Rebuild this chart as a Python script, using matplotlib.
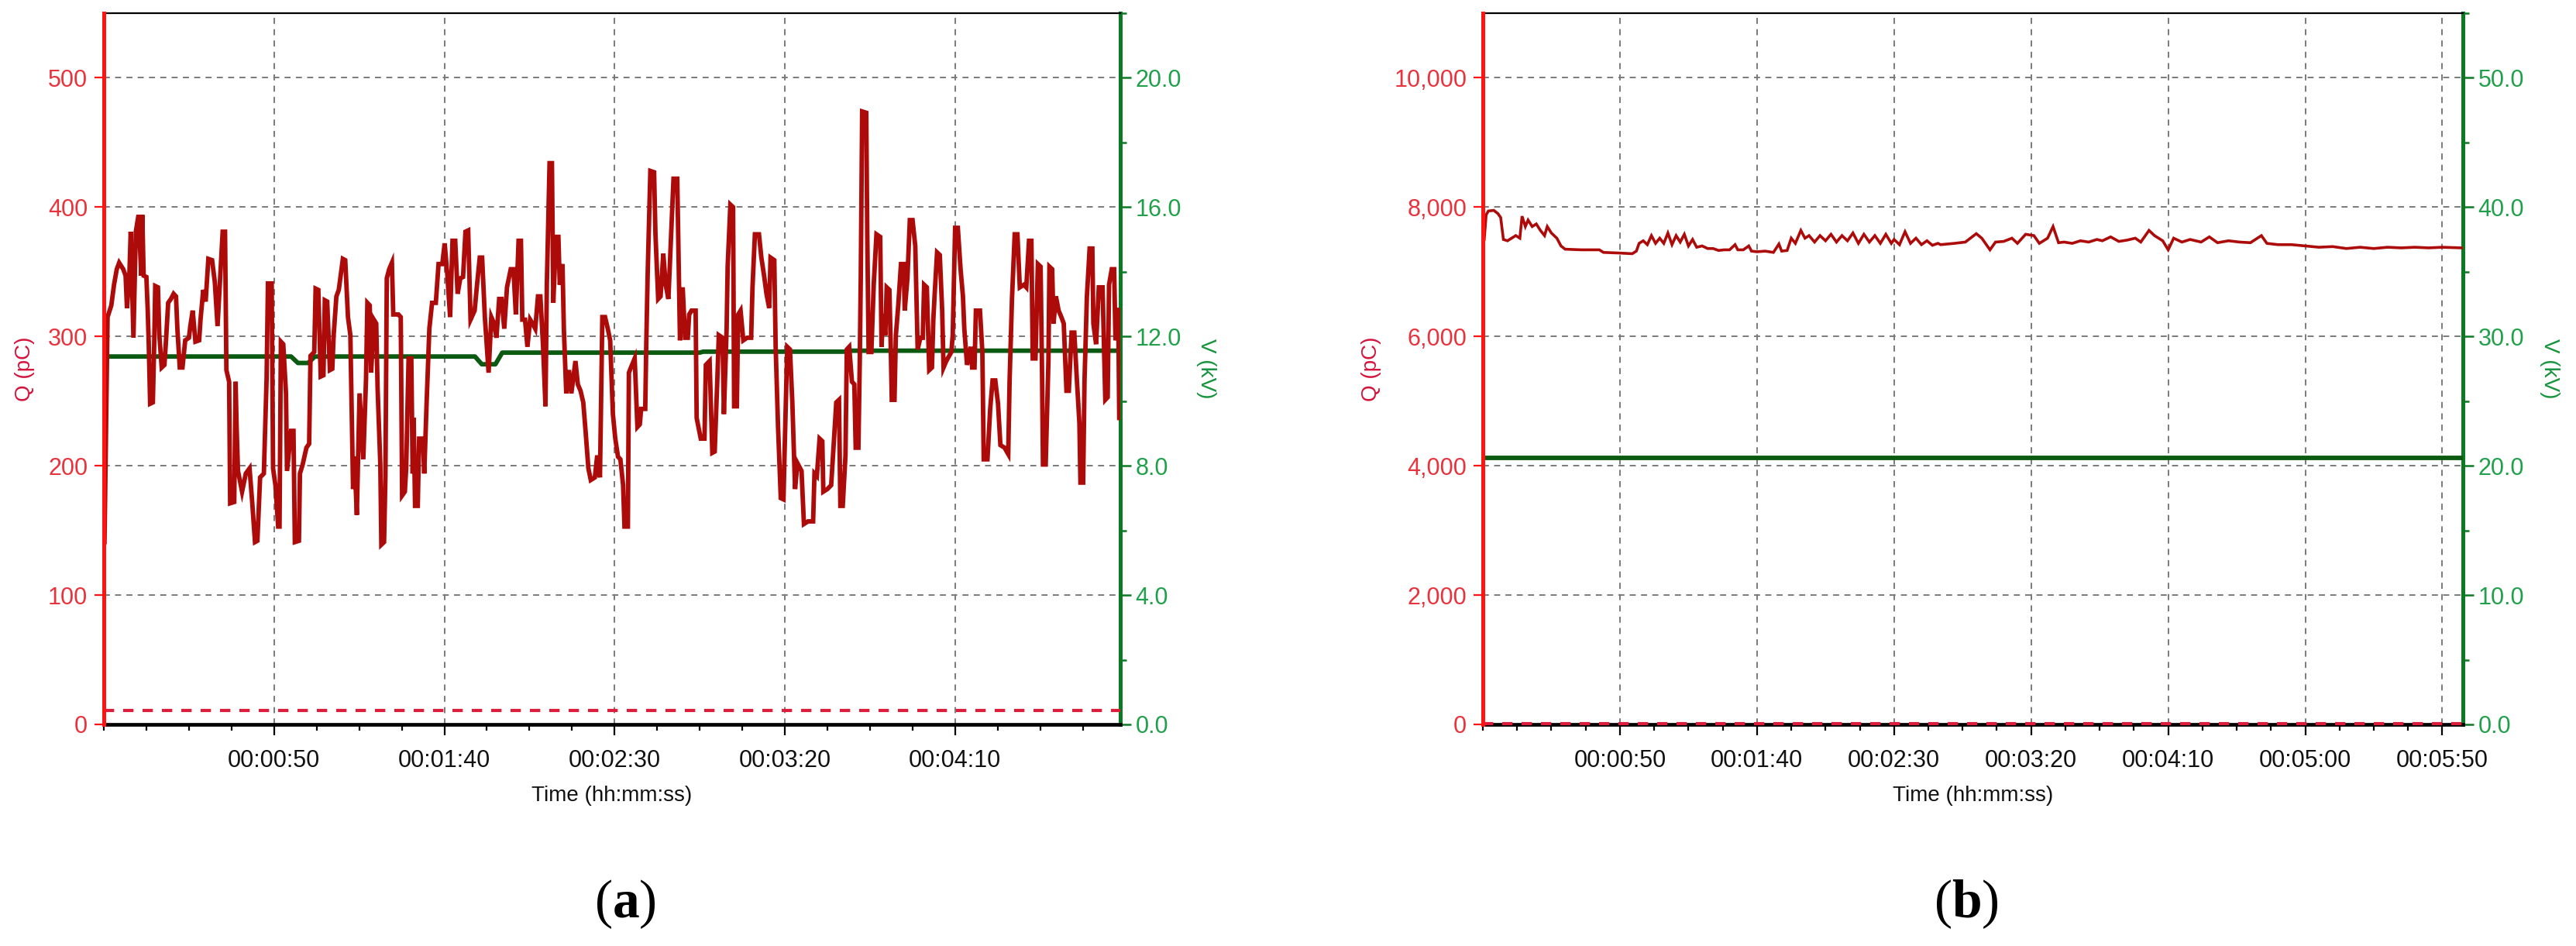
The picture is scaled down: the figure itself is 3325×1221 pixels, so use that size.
import matplotlib
matplotlib.use("Agg")
import matplotlib.pyplot as plt
from matplotlib.ticker import MultipleLocator, FixedLocator, FuncFormatter

plt.rcParams['font.family'] = ['Liberation Sans', 'DejaVu Sans']
plt.rcParams['mathtext.fontset'] = 'custom'
plt.rcParams['mathtext.rm'] = 'Liberation Serif'
plt.rcParams['mathtext.bf'] = 'Liberation Serif:bold'

# ---------------- data: panel (a) ----------------
A_Q_TIME = [
    0.2, 1.1, 2.2, 3.0, 3.8, 4.5, 5.7, 6.4, 6.8, 7.5, 7.9, 8.7, 9.4, 10.2, 11.0, 11.3, 11.7, 12.5, 12.9, 13.2,
    13.6, 14.4, 14.8, 15.1, 15.9, 16.3, 17.0, 17.8, 18.2, 18.9, 19.7, 20.5, 21.2, 21.6, 22.3, 23.1, 23.9, 25.0,
    25.4, 26.1, 26.9, 28.0, 28.4, 29.2, 29.9, 30.7, 31.8, 32.6, 33.4, 34.1, 34.9, 35.6, 36.0, 36.8, 37.1, 38.3,
    38.7, 39.0, 39.4, 40.6, 41.7, 42.8, 43.6, 44.4, 45.1, 45.9, 47.0, 47.8, 48.2, 49.3, 49.7, 50.4, 51.2, 51.6,
    52.0, 52.7, 53.5, 53.8, 55.0, 55.7, 56.1, 57.3, 57.6, 58.4, 59.5, 60.3, 60.7, 61.8, 62.2, 63.0, 63.7, 64.5,
    64.9, 65.6, 66.4, 67.1, 67.5, 68.3, 69.0, 70.2, 70.9, 71.7, 72.4, 72.8, 73.2, 73.6, 74.3,
    75.1, 76.2, 77.0, 77.4, 78.1, 78.5, 79.3, 80.0, 80.4, 81.2, 81.5, 82.3, 82.7, 83.1, 83.8, 84.6, 85.0, 86.5,
    87.2, 87.6, 88.4, 88.8, 89.5, 90.3, 90.7, 91.0, 91.4, 92.2, 92.6, 93.7, 94.1, 94.8, 95.6, 96.4, 97.5, 98.3,
    99.4, 100.1, 100.9, 101.7, 102.4, 103.2, 103.9, 104.7, 105.5, 106.2, 107.0, 107.7, 108.9, 109.6, 110.4,
    111.1, 111.9, 113.0, 113.8, 114.6, 115.3, 116.1, 116.8, 117.6, 118.4, 119.5, 120.3, 121.0, 121.8, 122.5,
    122.9, 123.7, 124.4, 125.2, 125.9, 126.7, 127.5, 128.2, 129.0, 129.7, 130.1, 130.9, 131.6, 132.0, 132.8,
    133.5, 133.9, 134.7, 135.1, 135.8, 136.6, 137.3, 138.5, 139.2, 140.0, 140.8, 141.5, 142.3, 143.0, 144.2,
    144.9, 145.7, 146.4, 147.2, 148.0, 148.7, 149.5,
    150.2, 151.0, 151.7, 152.5, 152.9, 153.9, 154.2, 154.8, 155.9, 156.7, 157.4, 157.8, 159.0, 159.3, 159.7,
    160.5, 161.6, 162.0, 162.8, 163.5, 164.3, 165.0, 165.8, 166.5, 167.3, 168.4, 168.8, 169.2, 170.0, 170.7,
    171.5, 171.9, 172.6, 173.8, 174.1, 175.3, 176.4, 176.8, 177.9, 178.7, 179.4, 180.2, 180.6, 181.7, 182.1,
    182.9, 183.2, 184.0, 184.8, 185.1, 185.9, 186.3, 187.0, 187.8, 188.9, 190.1, 190.5, 191.2, 192.4, 193.1,
    193.9, 194.6, 195.4, 195.8, 196.9, 197.3, 198.0, 198.8, 199.6, 199.9, 200.7, 201.5, 202.2, 203.0, 203.7,
    204.9, 205.6, 206.8, 208.3, 208.7, 209.4, 210.2, 211.0, 211.3, 212.5, 213.6, 214.4, 215.1, 215.9, 216.3,
    217.0, 217.8, 218.2, 218.9, 219.7, 220.4, 220.8, 221.6, 222.0, 222.3, 222.7, 223.9, 224.2, 224.6, 225.4,
    226.1, 226.9,
    228.0, 228.4, 228.8, 229.5, 229.9, 230.7, 231.1, 231.4, 232.2, 232.6, 233.3, 234.1, 234.9, 235.2, 236.0,
    236.7, 237.5, 238.3, 239.0, 239.8, 240.5, 240.9, 241.7, 242.4, 243.2, 243.6, 244.0, 244.7, 245.5, 246.2,
    246.6, 247.4, 248.9, 249.3, 250.0, 250.8, 251.6, 252.3, 252.7, 253.5, 254.6, 255.0, 255.7, 256.1, 257.3,
    258.0, 258.4, 259.5, 260.3, 261.0, 261.8, 262.6, 263.3, 264.5, 265.6, 266.0, 266.7, 267.5, 268.3, 269.0,
    270.2, 270.9, 271.7, 272.4, 272.8, 273.6, 274.3, 275.1, 275.5, 275.8, 276.6, 277.4, 277.7, 278.5, 278.9,
    279.6, 280.4, 281.2, 281.9, 282.7, 283.4, 284.2, 285.0, 285.7, 286.5, 286.8, 287.6, 288.0, 288.7, 289.5,
    290.3, 290.6, 291.4, 292.2, 293.3, 293.7, 294.1, 294.8, 295.2, 296.0, 296.7, 297.1, 297.9, 298.2,
]
A_Q_PC = [
    141, 315, 324, 340, 352, 357, 352, 347, 322, 347, 381, 299, 381, 394, 347, 394, 347, 346, 320, 294,
    248, 249, 294, 339, 338, 301, 276, 278, 294, 326, 329, 333, 331, 306, 276, 276, 297, 299,
    308, 320, 296, 297, 313, 336, 327, 360, 359, 342, 308, 342, 381, 381, 274, 265, 171, 172,
    265, 230, 196, 180, 194, 198, 171, 141, 142, 191, 194, 267, 341, 341, 198, 185, 153, 153,
    296, 294, 256, 196, 227, 227, 141, 142, 194, 201, 214, 217, 285, 288, 337, 336, 269, 270,
    328, 327, 274, 275, 301, 331, 336, 360, 359, 315, 301, 243, 182, 207, 162,
    256, 205, 267, 326, 324, 272, 313, 310, 260, 201, 139, 141, 192, 345, 352, 357, 317, 317,
    315, 177, 180, 198, 283, 283, 194, 237, 169, 169, 221, 221, 194, 249, 306, 326, 326, 356,
    356, 372, 347, 315, 374, 374, 333, 345, 346, 381, 382, 313, 320, 340, 361,
    361, 315, 272, 315, 310, 299, 329, 329, 306, 338, 352, 352, 317, 374, 374,
    313, 313, 292, 313, 310, 306, 331, 331, 292, 246, 340, 434, 434, 326, 377,
    377, 340, 356, 306, 256, 274, 256, 281, 263, 258, 249, 226, 198, 189, 191,
    208, 191, 315, 315, 306, 297, 240,
    221, 207, 205, 185, 153, 153, 272, 276, 283, 230, 232, 244, 244, 294, 347,
    428, 427, 379, 329, 331, 364, 340, 329, 372, 422, 422, 359, 297, 338, 299,
    299, 317, 320, 320, 237, 221, 221, 278, 281, 210, 211, 269, 301, 299, 240,
    306, 354, 402, 400, 246, 246, 317, 320, 297, 299, 299, 338, 379, 379, 361,
    347, 333, 322, 361, 359, 292, 230, 175, 174, 208, 292, 290, 249, 182, 202,
    196, 155, 157, 157, 194, 192, 221, 219, 180, 182, 185, 219, 249, 251, 169,
    169, 208, 290, 292, 265, 263, 214, 214, 281, 347, 474, 473, 379, 288, 288,
    340, 379,
    377, 292, 317, 301, 338, 336, 292, 251, 251, 301, 324, 356, 356, 320, 345,
    390, 390, 370, 290, 299, 299, 340, 338, 274, 276, 313, 333, 365, 363, 320,
    276, 281, 288, 301, 384, 384, 352, 331, 306, 278, 292, 276, 276, 320, 320,
    288, 205, 205, 244, 266, 266, 248, 216, 214, 209, 266, 329, 379, 379, 338,
    340, 338, 374, 374, 283, 283, 356, 354, 278, 201, 201, 281, 354, 352, 310,
    331, 320, 315, 310, 258, 258, 303, 303, 269, 233, 187, 187, 266, 331, 368,
    368, 310, 294, 338, 338, 294, 251, 253, 340, 352, 352, 297, 322, 237,
]
A_V_TIME = [0, 55, 57, 60, 62, 109, 111, 115, 117, 175, 176, 218, 219, 298.5]
A_V_KV = [11.38, 11.38, 11.18, 11.18, 11.38, 11.38, 11.14, 11.14, 11.5, 11.5, 11.53, 11.53, 11.56, 11.56]
A_THRESHOLD_PC = 11
A_X_TICKS = [50, 100, 150, 200, 250]

# ---------------- data: panel (b) ----------------
B_Q_TIME = [
    0.5, 1.2, 2.0, 4.0, 5.5, 6.5, 7.5, 9.0, 10.5, 12.0, 13.5, 14.3, 15.5, 16.5, 18.0, 19.5, 21.0, 22.5, 23.5,
    25.0, 27.0, 28.5, 30.0, 36.0, 42.5, 44.0, 50.0, 54.5, 56.0, 57.0, 58.5, 60.0, 61.5, 63.0, 64.5, 66.0, 67.5,
    69.0, 70.5, 72.0, 73.5, 75.0, 76.5, 78.0, 80.0, 82.0, 84.0, 86.0, 88.0, 90.0, 92.0, 93.0, 95.0, 97.0, 98.0,
    100.0, 103.0, 106.0, 108.0, 109.0, 111.0, 112.5, 114.0, 116.0, 117.5, 119.0, 121.0, 123.0, 125.0, 127.0,
    129.0, 131.0, 133.0, 135.0, 137.0, 139.0, 141.0, 143.0, 145.0, 147.0, 149.0, 150.0, 152.0, 154.0, 156.0,
    158.0, 160.0, 162.0, 164.0, 166.0, 167.0, 172.0, 176.0, 180.0, 182.0, 185.0, 187.0, 190.0, 193.0, 195.0,
    198.0, 201.0, 203.0, 206.0, 208.0, 210.0, 212.0, 215.0, 218.0, 221.0, 224.0, 226.0, 229.0, 232.0, 235.0,
    238.0, 240.0, 243.0, 245.0, 248.0, 250.0, 252.0, 255.0, 258.0, 262.0, 265.0, 268.0, 272.0, 276.0, 280.0,
    284.0, 286.0, 290.0, 295.0, 300.0, 305.0, 310.0, 315.0, 320.0, 325.0, 330.0, 335.0, 340.0, 345.0, 350.0,
    357.0,
]
B_Q_PC = [
    7500, 7880, 7940, 7950, 7900, 7840, 7500, 7480, 7520, 7560, 7520, 7860, 7700, 7800, 7700, 7740, 7640, 7560, 7700,
    7600, 7520, 7400, 7350, 7340, 7340, 7300, 7290, 7280, 7320, 7440, 7480, 7420, 7560, 7440, 7520, 7440, 7600,
    7420, 7560, 7460, 7580, 7400, 7500, 7380, 7400, 7360, 7360, 7330, 7340, 7340, 7420, 7340, 7340, 7400, 7320,
    7310, 7320, 7300, 7430, 7320, 7330, 7520, 7440, 7640, 7520, 7560, 7460, 7560, 7480, 7580,
    7460, 7560, 7480, 7600, 7440, 7580, 7460, 7560, 7440, 7580, 7440, 7500, 7420, 7620, 7440,
    7520, 7420, 7480, 7410, 7440, 7420, 7440, 7460, 7590, 7520, 7340, 7460, 7470, 7520, 7440,
    7580, 7560, 7440, 7520, 7700, 7450, 7460, 7440, 7480, 7460, 7500, 7480, 7540, 7470, 7490,
    7520, 7460, 7640, 7560, 7480, 7340, 7520, 7460, 7500, 7460, 7540, 7450, 7480, 7460, 7450,
    7560, 7440, 7420, 7420, 7400, 7380, 7390, 7360, 7380, 7360, 7380, 7370, 7380, 7370, 7380,
    7370,
]
B_V_TIME = [0, 357.5]
B_V_KV = [20.6, 20.6]
B_THRESHOLD_PC = 11
B_X_TICKS = [50, 100, 150, 200, 250, 300, 350]

# ---------------- styling ----------------
W, H = 3325, 1221
fig = plt.figure(figsize=(W / 100, H / 100), dpi=100)
fig.patch.set_facecolor('white')

RED_SPINE = '#ff1414'
GREEN_SPINE = '#0b7a22'
TRACE_RED = '#ad0a0a'
TRACE_GREEN = '#0b5a12'
TICK_RED = '#e8323c'
TICK_GREEN = '#20a04a'
LABEL_RED = '#d4143c'
LABEL_GREEN = '#17943e'
GRID = '#7a7a7a'
THRESH = '#dc1e3c'


def hms(x, pos):
    s = int(round(x))
    return f"{s // 3600:02d}:{(s % 3600) // 60:02d}:{s % 60:02d}"


def panel(rect, tq, q, tv, v, thr, xmax, xticks, qmax, qstep, vmax, vstep, vminor, qfmt, q_lw):
    ax = fig.add_axes(rect)
    ax2 = ax.twinx()
    ax.set_zorder(ax2.get_zorder() + 1)
    ax.patch.set_visible(False)
    ax2.patch.set_visible(True)
    ax2.patch.set_facecolor('white')

    ax.set_xlim(0, xmax)
    ax.set_ylim(0, qmax)
    ax2.set_ylim(0, vmax)

    # voltage (behind), with grid
    ax2.plot(tv, v, color=TRACE_GREEN, lw=4.2, solid_capstyle='butt', zorder=3)
    ax2.xaxis.set_visible(True)
    ax.xaxis.set_major_locator(FixedLocator(xticks))
    ax.xaxis.set_minor_locator(MultipleLocator(12.5))
    ax.xaxis.set_major_formatter(FuncFormatter(hms))
    ax2.tick_params(axis='x', which='both', length=0, labelbottom=False, labeltop=False)
    ax2.yaxis.set_major_locator(MultipleLocator(vstep))
    ax2.yaxis.set_minor_locator(MultipleLocator(vminor))
    ax2.yaxis.set_major_formatter(FuncFormatter(lambda val, p: f"{val:.1f}"))
    ax2.grid(True, which='major', axis='both', color=GRID, linestyle=(0, (4, 3.5)), linewidth=1.4, zorder=1)
    ax2.set_axisbelow(True)

    # charge (front)
    ax.plot(tq, q, color=TRACE_RED, lw=q_lw, solid_joinstyle='miter', zorder=3)
    ax.axhline(thr, color=THRESH, lw=3.0, linestyle=(0, (3.2, 2.8)), zorder=4, clip_on=False)

    ax.yaxis.set_major_locator(MultipleLocator(qstep))
    ax.yaxis.set_major_formatter(FuncFormatter(qfmt))

    # spines
    for s in ('left', 'right', 'top', 'bottom'):
        ax2.spines[s].set_visible(False)
    ax2.spines['right'].set_visible(True)
    ax2.spines['right'].set_color(GREEN_SPINE)
    ax2.spines['right'].set_linewidth(3.6)
    ax.spines['right'].set_visible(False)
    ax.spines['left'].set_color(RED_SPINE)
    ax.spines['left'].set_linewidth(3.6)
    ax.spines['left'].set_zorder(5)
    ax.spines['top'].set_color('black')
    ax.spines['top'].set_linewidth(1.6)
    ax.spines['bottom'].set_color('black')
    ax.spines['bottom'].set_linewidth(3.4)
    ax.spines['bottom'].set_zorder(3.5)

    ax.tick_params(axis='y', which='major', direction='out', length=9, width=1.6,
                   color=RED_SPINE, labelcolor=TICK_RED, labelsize=22, pad=6)
    ax.tick_params(axis='x', which='major', direction='out', length=10, width=1.6,
                   color='black', labelcolor='#111111', labelsize=22, pad=13)
    ax.tick_params(axis='x', which='minor', direction='out', length=6, width=1.6, color='black')
    ax2.tick_params(axis='y', which='major', direction='out', length=10, width=1.8,
                    color=GREEN_SPINE, labelcolor=TICK_GREEN, labelsize=22, pad=4)
    ax2.tick_params(axis='y', which='minor', direction='out', length=6, width=1.8, color=GREEN_SPINE)

    ax.set_ylabel('Q (pC)', color=LABEL_RED, fontsize=20, labelpad=12)
    ax2.set_ylabel('V (kV)', color=LABEL_GREEN, fontsize=20, rotation=270, va='bottom', labelpad=14)
    ax.set_xlabel('Time (hh:mm:ss)', color='#111111', fontsize=20, labelpad=12)
    return ax, ax2


bottom = (H - 935) / H
height = 918 / H

panel([134 / W, bottom, 1312 / W, height], A_Q_TIME, A_Q_PC, A_V_TIME, A_V_KV, A_THRESHOLD_PC,
      298.5, A_X_TICKS, 550, 100, 22, 4, 2, lambda val, p: f"{int(val)}", 4.2)

panel([1914 / W, bottom, 1265 / W, height], B_Q_TIME, B_Q_PC, B_V_TIME, B_V_KV, B_THRESHOLD_PC,
      357.5, B_X_TICKS, 11000, 2000, 55, 10, 5, lambda val, p: f"{int(val):,}", 2.6)

fig.text(807 / W, (H - 1184) / H, r'($\mathbf{a}$)', family='Liberation Serif', fontsize=50,
         ha='center', va='baseline')
fig.text(2538 / W, (H - 1184) / H, r'($\mathbf{b}$)', family='Liberation Serif', fontsize=50,
         ha='center', va='baseline')

fig.savefig('out.png', dpi=100, facecolor='white')
